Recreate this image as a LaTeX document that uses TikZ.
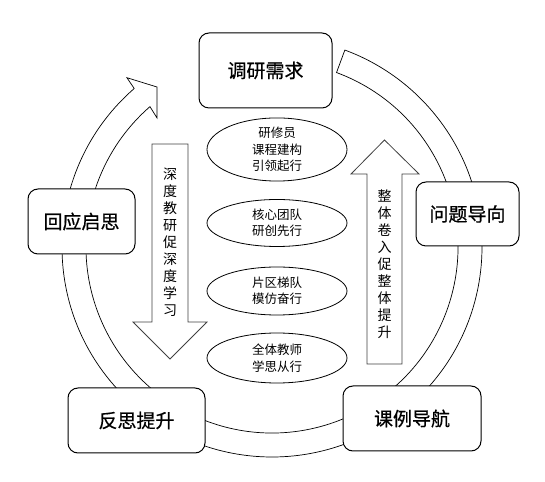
\documentclass[tikz,border=0pt]{standalone}
\usepackage{fontspec}
\setmainfont{Noto Sans CJK SC}
\newfontfamily\cjk{Noto Sans CJK SC}
\newfontfamily\cjkbox[FakeBold=0.6]{Noto Sans CJK SC}
\usetikzlibrary{calc,shapes.geometric}
\tikzset{
  stagebox/.style={draw=black, line width=1pt, rounded corners=10pt, fill=white,
    inner sep=0pt, font=\cjkbox\fontsize{19}{22}\selectfont},
  roleell/.style={draw=black, line width=0.8pt, ellipse, fill=white, inner sep=0pt,
    align=center, font=\cjk\fontsize{12.5}{16.5}\selectfont},
  ringline/.style={draw=black, line width=0.7pt, fill=white},
  blockarrow/.style={draw=black!75, line width=0.8pt, fill=white},
  vtext/.style={align=center, inner sep=0pt, font=\cjk\fontsize{14}{17}\selectfont}
}
\begin{document}
\begin{tikzpicture}[x=1pt,y=1pt]
\useasboundingbox (0,0) rectangle (545,481);
\coordinate (c) at (272,234);
% ring with arrowhead and tail
\path[ringline] ($(c)+(131:210)$) arc[start angle=131, end angle=429.7, radius=210]
  -- ($(c)+(69.7:186)$) arc[start angle=429.7, end angle=131, radius=186]
  -- ($(c)+(131.7:173)$) -- ($(c)+(125.7:197)$) -- ($(c)+(130.6:223)$) -- cycle;
% stage boxes
\node[stagebox, minimum width=133pt, minimum height=75pt] (dy) at (265.5,410.5) {调研需求};
\node[stagebox, minimum width=103pt, minimum height=64pt] (wt) at (467.5,267) {问题导向};
\node[stagebox, minimum width=138pt, minimum height=65pt] (kl) at (412,62.5) {课例导航};
\node[stagebox, minimum width=137pt, minimum height=65pt] (fs) at (136.5,60.5) {反思提升};
\node[stagebox, minimum width=107pt, minimum height=65pt] (hy) at (81.5,259.5) {回应启思};
% ellipses
\node[roleell, minimum width=140pt, minimum height=55pt] (e1) at (277,331.5) {研修员\\课程建构\\引领起行};
\node[roleell, minimum width=140pt, minimum height=47pt] (e2) at (277,258) {核心团队\\研创先行};
\node[roleell, minimum width=140pt, minimum height=48pt] (e3) at (277,190) {片区梯队\\模仿奋行};
\node[roleell, minimum width=140pt, minimum height=50pt] (e4) at (277,123) {全体教师\\学思从行};
% down block arrow
\path[blockarrow] (152,337) -- (188,337) -- (188,159) -- (207,159) -- (170,122)
  -- (133,159) -- (152,159) -- cycle;
\node[vtext] (dt) at (170,238.5) {深\\度\\教\\研\\促\\深\\度\\学\\习};
% up block arrow
\path[blockarrow] (367,117) -- (402,117) -- (402,307) -- (419,307) -- (384.5,341)
  -- (351,307) -- (367,307) -- cycle;
\node[vtext] (ut) at (384.5,217) {整\\体\\卷\\入\\促\\整\\体\\提\\升};
\end{tikzpicture}
\end{document}
